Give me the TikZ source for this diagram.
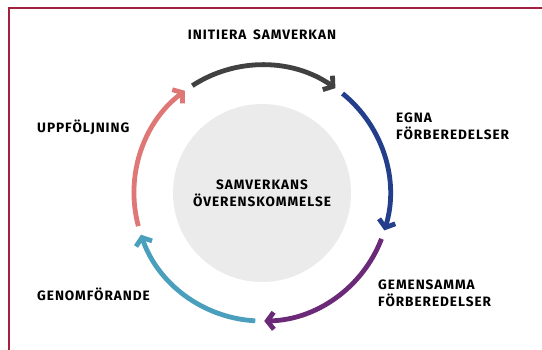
\documentclass[tikz,border=0pt]{standalone}
\usepackage{fontspec}
\setmainfont{Fira Sans}[LetterSpace=7,WordSpace=1.6]
\usetikzlibrary{arrows.meta}
\usetikzlibrary{positioning}
\definecolor{framered}{HTML}{A3213F}
\definecolor{arcgray}{HTML}{414141}
\definecolor{arcblue}{HTML}{233F8C}
\definecolor{arcpurple}{HTML}{6B2A78}
\definecolor{arcteal}{HTML}{4A9FBC}
\definecolor{arcpink}{HTML}{DF7776}
\definecolor{discgray}{HTML}{EBEBEB}
\tikzset{
    steplabel/.style = {font=\bfseries\fontsize{13.6}{17}\selectfont, align=left, anchor=west, text=black, inner sep=0pt},
    midlabel/.style = {font=\bfseries\fontsize{13.6}{17}\selectfont, align=center, text=black, inner sep=0pt},
    cyclearc/.style = {line width=4.8pt, -{Straight Barb[length=6.5pt,width=17pt]}},
    frameline/.style = {draw=framered, line width=1.3pt},
}
\begin{document}
\begin{tikzpicture}[x=1pt,y=1pt]
\useasboundingbox (0,0) rectangle (542,349);
\draw[frameline] (9,-20) -- (9,341) -- (560,341);
\coordinate (c) at (262,156);
\fill[discgray] (c) circle (89pt);
% the five steps of the cycle
\draw[cyclearc, arcgray]   (c) ++(123:128pt)  arc (123:55:128pt);
\draw[cyclearc, arcblue]   (c) ++(51:128pt)   arc (51:-17:128pt);
\draw[cyclearc, arcpurple] (c) ++(-21:128pt)  arc (-21:-89:128pt);
\draw[cyclearc, arcteal]   (c) ++(-93:128pt)  arc (-93:-161:128pt);
\draw[cyclearc, arcpink]   (c) ++(-165:128pt) arc (-165:-233:128pt);
\node[midlabel] at (262,314) (init) {INITIERA SAMVERKAN};
\node[steplabel] at (396,223) (egna) {EGNA\\FÖRBEREDELSER};
\node[steplabel] at (378,56) (gem) {GEMENSAMMA\\FÖRBEREDELSER};
\node[steplabel] at (37,55) (genom) {GENOMFÖRANDE};
\node[steplabel] at (37,222) (uppf) {UPPFÖLJNING};
\node[midlabel] at (c) (avtal) {SAMVERKANS\\ÖVERENSKOMMELSE};
\end{tikzpicture}
\end{document}
